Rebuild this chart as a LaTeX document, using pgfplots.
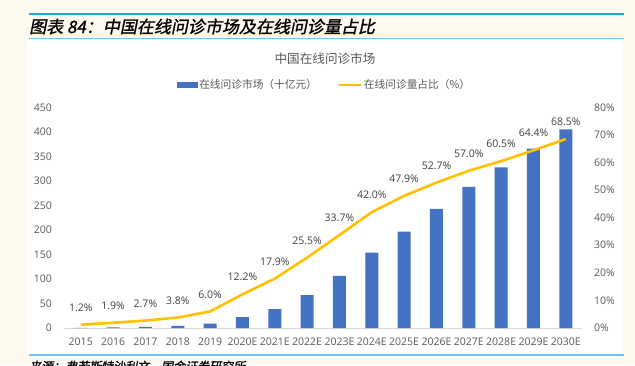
\documentclass[border=0pt]{standalone}
\usepackage{pgfplots}
\pgfplotsset{compat=1.18}
\usepackage{fontspec}
\setmainfont{Open Sans}
\newfontfamily\cjk{Noto Sans CJK SC}
\newfontfamily\cjktitle[FakeSlant=0.2,FakeBold=1.2]{Noto Sans CJK SC}
\definecolor{cream}{HTML}{FEF9EE}
\definecolor{barblue}{HTML}{4472C4}
\definecolor{lineyel}{HTML}{FFC000}
\definecolor{topblue}{HTML}{1CA6E6}
\definecolor{ltblue}{HTML}{6EC6EE}
\definecolor{txtgray}{HTML}{595959}
\definecolor{lblgray}{HTML}{404040}
\begin{document}
\begin{tikzpicture}[x=1pt,y=1pt]
\useasboundingbox (0,0) rectangle (635,365);
\fill[cream] (0,0) rectangle (635,365);
\fill[white] (28,10) rectangle (622,326);
\draw[topblue, line width=2pt] (29,350.7) -- (624,350.7);
\draw[ltblue, line width=1pt] (29,326) -- (624,326);
\draw[ltblue, line width=1.2pt] (29,10) -- (624,10);
\node[anchor=west, inner sep=0] at (29,338.5) {\cjktitle\fontsize{17}{19}\selectfont 图表 84：中国在线问诊市场及在线问诊量占比};
\node[anchor=north west, inner sep=0] at (29,4.5) {\cjktitle\fontsize{12}{14}\selectfont 来源：弗若斯特沙利文，国金证券研究所};
\node[text=txtgray, inner sep=0] at (325,306) {\cjk\fontsize{12.6}{14}\selectfont 中国在线问诊市场};
\coordinate (plotSW) at (63.6pt,37pt);

\begin{axis}[
  at={(plotSW)}, anchor=south west, scale only axis,
  width=518.4pt, height=220.7pt,
  xmin=-0.53, xmax=15.5, ymin=0, ymax=450,
  axis x line*=bottom, axis y line*=left,
  x axis line style={draw=black!15, line width=0.8pt, -},
  y axis line style={draw=none},
  major tick length=0pt,
  xtick={0,...,15},
  xticklabels={2015,2016,2017,2018,2019,2020E,2021E,2022E,2023E,2024E,2025E,2026E,2027E,2028E,2029E,2030E},
  ytick={0,50,100,150,200,250,300,350,400,450},
  yticklabels={0,50,100,150,200,250,300,350,400,450},
  xticklabel style={font=\fontsize{10.5}{12}\selectfont, text=txtgray, anchor=north, inner sep=0pt, yshift=-10pt},
  yticklabel style={font=\fontsize{10.5}{12}\selectfont, text=txtgray, anchor=east, inner sep=0pt, xshift=-11.6pt},
]
\addplot[ybar, bar width=13pt, fill=barblue, draw=none] coordinates {
(0,0.5) (1,1.5) (2,2.5) (3,4.5) (4,9) (5,22) (6,38.5) (7,67)
(8,106.5) (9,153.5) (10,196.5) (11,243) (12,288) (13,327.5) (14,366) (15,405)
};
\end{axis}

\begin{axis}[
  at={(plotSW)}, anchor=south west, scale only axis,
  width=518.4pt, height=220.7pt,
  xmin=-0.53, xmax=15.5, ymin=0, ymax=80,
  axis x line=none, axis y line*=right,
  y axis line style={draw=none},
  major tick length=0pt,
  ytick={0,10,20,30,40,50,60,70,80},
  yticklabels={0\%,10\%,20\%,30\%,40\%,50\%,60\%,70\%,80\%},
  yticklabel style={font=\fontsize{10.5}{12}\selectfont, text=txtgray, anchor=west, inner sep=0pt, xshift=12pt},
  legend columns=2,
  legend style={draw=none, fill=none, at={(0.5033,1.101)}, anchor=center,
    font=\cjk\fontsize{10.7}{12}\selectfont, text=txtgray,
    /tikz/every even column/.append style={column sep=20pt},
    nodes={inner sep=1.5pt}},
  legend cell align=left,
]
\addlegendimage{legend image code/.code={\fill[barblue] (0pt,-2.5pt) rectangle (20pt,2.5pt);}}
\addlegendentry{在线问诊市场（十亿元）}
\addplot[lineyel, line width=2.6pt, line join=round,
  legend image code/.code={\draw[lineyel, line width=2pt] (0pt,0pt) -- (22pt,0pt);},
  nodes near coords, point meta=explicit symbolic,
  every node near coord/.append style={font=\fontsize{10.5}{12}\selectfont, text=lblgray, anchor=south, inner sep=0pt, yshift=12pt}]
coordinates {
(0,1.2) [1.2\%] (1,1.9) [1.9\%] (2,2.7) [2.7\%] (3,3.8) [3.8\%]
(4,6.0) [6.0\%] (5,12.2) [12.2\%] (6,17.9) [17.9\%] (7,25.5) [25.5\%]
(8,33.7) [33.7\%] (9,42.0) [42.0\%] (10,47.9) [47.9\%] (11,52.7) [52.7\%]
(12,57.0) [57.0\%] (13,60.5) [60.5\%] (14,64.4) [64.4\%] (15,68.5) [68.5\%]
};
\addlegendentry{在线问诊量占比（\%）}
\end{axis}
\end{tikzpicture}
\end{document}
